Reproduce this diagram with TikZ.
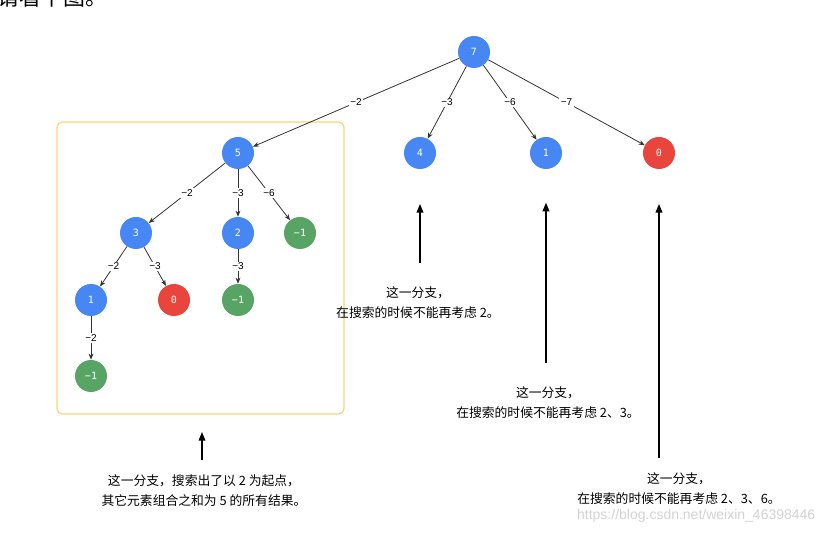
\documentclass[tikz,border=0pt]{standalone}
\usepackage{fontspec}
\setmainfont{Noto Sans CJK SC}
\newfontfamily\digitfont{DejaVu Sans Mono}
\newfontfamily\labelfont{Liberation Sans}
\usetikzlibrary{arrows.meta}
\definecolor{nodeblue}{HTML}{4787F3}
\definecolor{nodered}{HTML}{E8453C}
\definecolor{nodegreen}{HTML}{57A464}
\definecolor{boxorange}{HTML}{FCD27A}
\definecolor{edgegray}{HTML}{333333}
\definecolor{markgray}{HTML}{D2D2D2}

\begin{document}
\begin{tikzpicture}[x=0.75pt,y=-0.75pt,
    num/.style={circle,minimum size=24pt,inner sep=0pt,text=white,
      font=\digitfont\fontsize{7.5}{8}\selectfont},
    go/.style={num,fill=nodeblue},
    hit/.style={num,fill=nodered},
    miss/.style={num,fill=nodegreen},
    edge/.style={draw=edgegray,line width=0.6pt,-{Stealth[length=4.5pt,width=3.6pt]}},
    elabel/.style={fill=white,inner sep=1pt,text=black,
      font=\labelfont\fontsize{7.5}{8}\selectfont},
    bigarrow/.style={line width=1.1pt,-{Triangle[length=6.5pt,width=5pt]}},
    note/.style={align=center,text=black,font=\fontsize{9.6}{15}\selectfont}]
    \useasboundingbox (0,0) rectangle (828,534);
    % Heading cut off at the top
    \node[anchor=base west,inner sep=0pt,font=\fontsize{16.5}{18}\selectfont] (head) at (-3,6) {请看下图。};
    % Frame round the first branch
    \draw[boxorange,line width=0.9pt,rounded corners=4pt] (57,122) rectangle (344,414);
    % Tree
    \node[go] (n7) at (474,52) {7};
    \node[go] (n5) at (238,153) {5};
    \node[go] (n4) at (420,153) {4};
    \node[go] (n1) at (546,153) {1};
    \node[hit] (n0) at (659,153) {0};
    \node[go] (n53) at (136,233) {3};
    \node[go] (n52) at (238,233) {2};
    \node[miss] (n5m) at (300,233) {−1};
    \node[go] (n531) at (91,300) {1};
    \node[hit] (n530) at (174,300) {0};
    \node[miss] (n52m) at (238,300) {−1};
    \node[miss] (n531m) at (91,376) {−1};
    % Edges
    \draw[edge] (n7) -- node[elabel]{−2} (n5);
    \draw[edge] (n7) -- node[elabel]{−3} (n4);
    \draw[edge] (n7) -- node[elabel]{−6} (n1);
    \draw[edge] (n7) -- node[elabel]{−7} (n0);
    \draw[edge] (n5) -- node[elabel]{−2} (n53);
    \draw[edge] (n5) -- node[elabel]{−3} (n52);
    \draw[edge] (n5) -- node[elabel]{−6} (n5m);
    \draw[edge] (n53) -- node[elabel]{−2} (n531);
    \draw[edge] (n53) -- node[elabel]{−3} (n530);
    \draw[edge] (n52) -- node[elabel]{−3} (n52m);
    \draw[edge] (n531) -- node[elabel]{−2} (n531m);
    % Notes
    \node[note] (t4) at (418,303) {这一分支，\\在搜索的时候不能再考虑 2。};
    \node[note] (t1) at (548,403) {这一分支，\\在搜索的时候不能再考虑 2、3。};
    \node[note] (t0) at (679,489) {这一分支，\\在搜索的时候不能再考虑 2、3、6。};
    \node[note] (tb) at (204,491) {这一分支，搜索出了以 2 为起点，\\其它元素组合之和为 5 的所有结果。};
    \coordinate (a4) at (420,263);
    \coordinate (a1) at (546,363);
    \coordinate (a0) at (659,458);
    \coordinate (ab) at (202,460);
    \coordinate (ab2) at (202,432);
    \draw[bigarrow] (a4) -- ([yshift=-26pt]n4.south);
    \draw[bigarrow] (a1) -- ([yshift=-25pt]n1.south);
    \draw[bigarrow] (a0) -- ([yshift=-26pt]n0.south);
    \draw[bigarrow] (ab) -- (ab2);
    % Watermark
    \node[anchor=east,text=markgray,font=\labelfont\fontsize{10.5}{12}\selectfont] (mark) at (820,516) {https://blog.csdn.net/weixin\_46398446};
\end{tikzpicture}
\end{document}
